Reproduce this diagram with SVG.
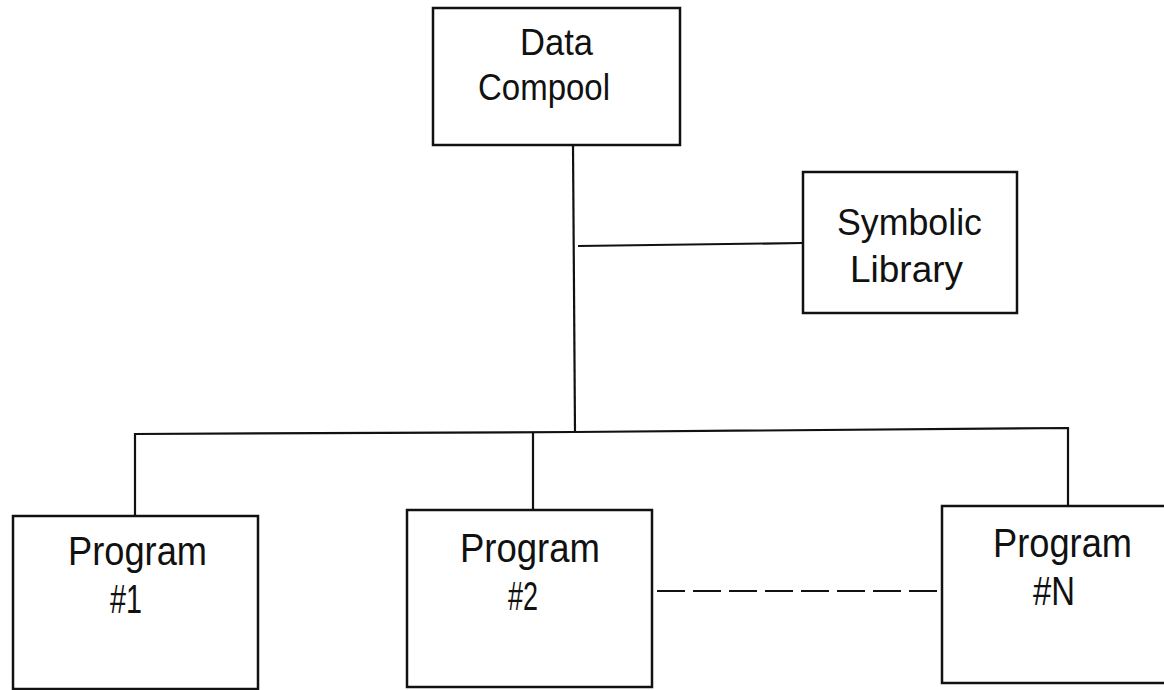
<svg xmlns="http://www.w3.org/2000/svg" width="1164" height="690" viewBox="0 0 1164 690">
<style>
.box{fill:none;stroke:#111;stroke-width:2.5}
.ln{fill:none;stroke:#111;stroke-width:2.2}
.dash{stroke-dasharray:28 8}
text{font-family:"Liberation Sans",Arial,sans-serif;fill:#111;lengthAdjust:spacingAndGlyphs}
.t{font-size:37px}
.p{font-size:41px}
</style>
<rect x="0" y="0" width="1164" height="690" fill="#fff"/>
<g id="connectors">
<line class="ln" x1="573" y1="145" x2="575" y2="432"/>
<line class="ln" x1="578" y1="246" x2="803" y2="243"/>
<polyline class="ln" points="135,516 135,434 575,432 1068,428 1068,506"/>
<line class="ln" x1="533" y1="432" x2="533" y2="510"/>
<line class="ln dash" x1="657" y1="591" x2="942" y2="591"/>
</g>
<g id="data-compool">
<rect class="box" x="433" y="8" width="247" height="137"/>
<text class="t" x="520" y="55" textLength="73" lengthAdjust="spacingAndGlyphs">Data</text>
<text class="t" x="478" y="100" textLength="132" lengthAdjust="spacingAndGlyphs">Compool</text>
</g>
<g id="symbolic-library">
<rect class="box" x="803" y="172" width="214" height="141"/>
<text class="t" x="837" y="235" textLength="145" lengthAdjust="spacingAndGlyphs">Symbolic</text>
<text class="t" x="850" y="282" textLength="113" lengthAdjust="spacingAndGlyphs">Library</text>
</g>
<g id="program-1">
<rect class="box" x="13" y="516" width="245" height="173"/>
<text class="p" x="68" y="565" textLength="139" lengthAdjust="spacingAndGlyphs">Program</text>
<text class="p" x="110" y="613" textLength="32" lengthAdjust="spacingAndGlyphs">#1</text>
</g>
<g id="program-2">
<rect class="box" x="407" y="510" width="245" height="177"/>
<text class="p" x="460" y="562" textLength="140" lengthAdjust="spacingAndGlyphs">Program</text>
<text class="p" x="508" y="610" textLength="30" lengthAdjust="spacingAndGlyphs">#2</text>
</g>
<g id="program-n">
<rect class="box" x="942" y="506" width="240" height="177"/>
<text class="p" x="993" y="557" textLength="139" lengthAdjust="spacingAndGlyphs">Program</text>
<text class="p" x="1033" y="605" textLength="42" lengthAdjust="spacingAndGlyphs">#N</text>
</g>
</svg>
